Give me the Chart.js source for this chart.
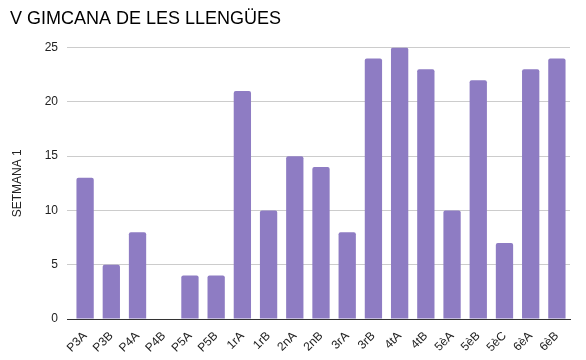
<!DOCTYPE html>
<html lang="ca">
<head>
    <meta charset="UTF-8">
    <title>V Gimcana de les llengües</title>
    <script src="https://cdn.jsdelivr.net/npm/chart.js"></script>
    <style>
        body {
            margin: 0;
            padding: 0;
            background: white;
        }

        .chart-container {
            width: 586px;
            height: 360px;
        }
    </style>
</head>
<body>

    <div class="chart-container">
        <canvas id="gimcanaChart"></canvas>
    </div>

    <script>
        const classes = ['P3A', 'P3B', 'P4A', 'P4B', 'P5A', 'P5B', '1rA', '1rB', '2nA', '2nB',
                         '3rA', '3rB', '4tA', '4tB', '5èA', '5èB', '5èC', '6èA', '6èB'];
        const setmana1 = [13, 5, 8, 0, 4, 4, 21, 10, 15, 14, 8, 24, 25, 23, 10, 22, 7, 23, 24];
        const yTicks = [0, 5, 10, 15, 20, 25];

        const ctx = document.getElementById('gimcanaChart').getContext('2d');
        const font = "'Liberation Sans', Arial, sans-serif";

        new Chart(ctx, {
            type: 'bar',
            data: {
                labels: classes,
                datasets: [{
                    label: 'SETMANA 1',
                    data: setmana1,
                    backgroundColor: '#8e7cc3',
                    borderRadius: { topLeft: 2, topRight: 2 },
                    borderSkipped: 'bottom',
                    barPercentage: 0.66,
                    categoryPercentage: 1
                }]
            },
            options: {
                responsive: true,
                maintainAspectRatio: false,
                animation: false,
                layout: { padding: { left: 10, right: 16, top: 0, bottom: 0 } },
                scales: {
                    y: {
                        min: 0,
                        max: 25,
                        afterBuildTicks: scale => { scale.ticks = yTicks.map(v => ({ value: v })); },
                        afterFit: scale => { scale.width = 62; },
                        border: { display: false },
                        grid: {
                            color: c => c.tick.value === 0 ? '#333' : '#cccccc',
                            tickLength: 5
                        },
                        ticks: { color: '#222', padding: 9, font: { family: font, size: 12 } },
                        title: {
                            display: true,
                            text: 'SETMANA 1',
                            color: '#222',
                            padding: { top: 0, bottom: 0 },
                            font: { family: font, size: 12 }
                        }
                    },
                    x: {
                        afterFit: scale => { scale.height = 41; },
                        grid: { display: false },
                        border: { color: '#333' },
                        ticks: {
                            color: '#222',
                            autoSkip: false,
                            maxRotation: 45,
                            minRotation: 45,
                            padding: 2,
                            font: { family: font, size: 12 }
                        }
                    }
                },
                plugins: {
                    legend: { display: false },
                    tooltip: { enabled: false },
                    title: {
                        display: true,
                        text: 'V GIMCANA DE LES LLENGÜES',
                        align: 'start',
                        color: '#000',
                        padding: { top: 8, bottom: 18 },
                        font: { family: font, size: 18, weight: 'normal' }
                    }
                }
            }
        });
    </script>

</body>
</html>
